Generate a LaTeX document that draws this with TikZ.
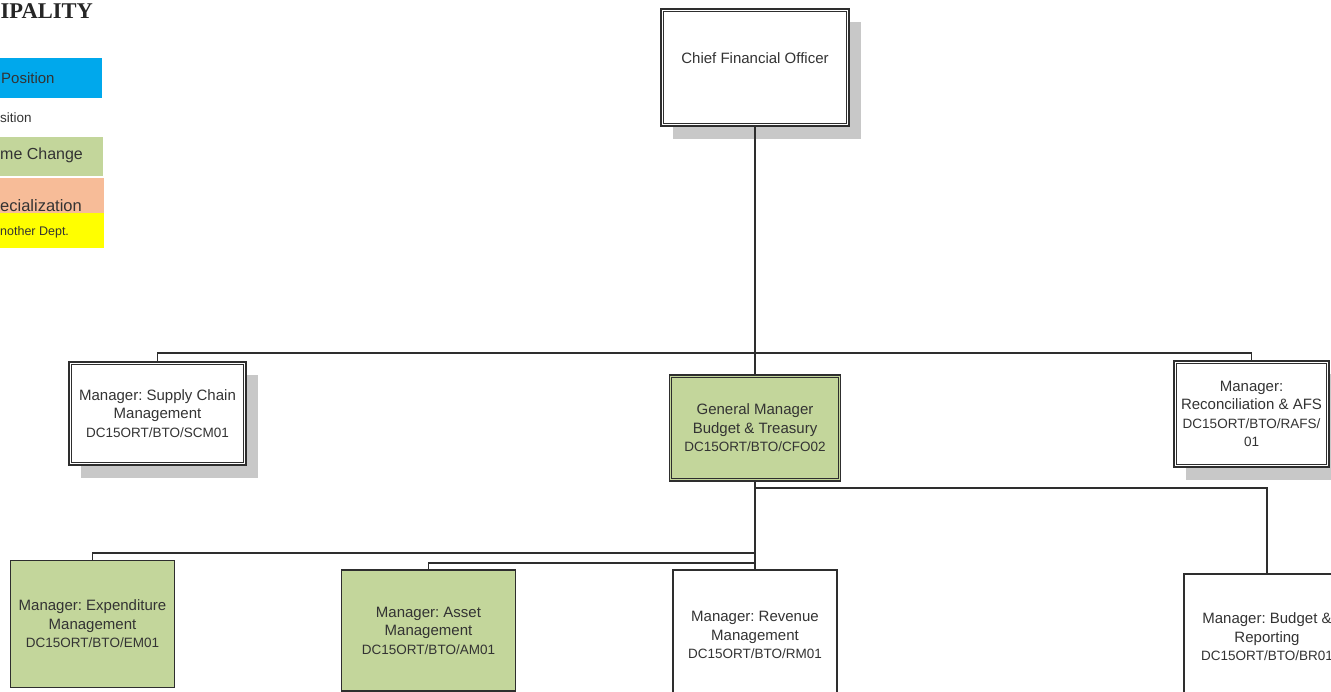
\documentclass[tikz,border=0pt]{standalone}
\usepackage{fontspec}
\setmainfont{Liberation Sans}
\newfontfamily\titlefont{Liberation Serif}
\usetikzlibrary{shadows}
\frenchspacing
\definecolor{gfill}{HTML}{C3D69B}
\definecolor{bfill}{HTML}{00A8EC}
\definecolor{sfill}{HTML}{F7BC98}
\definecolor{yfill}{HTML}{FFFF00}
\definecolor{lc}{HTML}{2E2E2E}
\definecolor{tc}{HTML}{333333}
\definecolor{shc}{HTML}{C8C8C8}
\newcommand{\nm}{\fontsize{15}{18.5}\selectfont}
\newcommand{\cd}{\fontsize{13.5}{18.5}\selectfont}
\newcommand{\innerline}[1]{\draw[inb] ([shift={(3.2,3.2)}]#1.north west) rectangle ([shift={(-3.2,-3.2)}]#1.south east);}
\begin{document}
\begin{tikzpicture}[x=1pt,y=-1pt,
  box/.style={draw=lc, line width=1.3pt, line join=miter, inner sep=0pt, align=center, text=tc, font=\nm},
  dbox/.style={box, line width=1.6pt},
  inb/.style={draw=lc, line width=0.9pt},
  shad/.style={drop shadow={shadow xshift=12pt, shadow yshift=-13pt, fill=shc, opacity=1}},
  conn/.style={draw=lc, line width=1.3pt},
  leg/.style={anchor=west, inner sep=0pt, text=tc}]
\clip (0,0) rectangle (1331,691);
\fill[white] (0,0) rectangle (1331,691);
% title and legend
\node[anchor=north east, inner sep=0pt, text=black!85, font=\titlefont\bfseries\fontsize{22.5}{22}\selectfont] (title) at (93,3) {IPALITY};
\fill[bfill] (0,58) rectangle (102,98);
\node[leg, font=\fontsize{15}{18}\selectfont] (l1) at (1,78) {Position};
\node[leg, font=\fontsize{13.5}{16}\selectfont] (l2) at (0,118) {sition};
\fill[gfill] (0,137) rectangle (103,176);
\node[leg, font=\fontsize{16}{18}\selectfont] (l3) at (0,155) {me Change};
\fill[sfill] (0,178) rectangle (104,215);
\fill[yfill] (0,213) rectangle (104,248);
\node[leg, font=\fontsize{16.5}{18}\selectfont] (l4) at (0,206) {ecialization};
\node[leg, font=\fontsize{12.5}{14}\selectfont] (l5) at (0,232) {nother Dept.};
% boxes
\node[dbox, shad, fill=white, minimum width=188pt, minimum height=117pt] (cfo) at (755,67.5) {};
\innerline{cfo}
\node[inner sep=0pt, text=tc, font=\nm] (cfot) at (755,58) {Chief Financial Officer};
\node[dbox, shad, fill=white, minimum width=177pt, minimum height=103pt] (scm) at (157.5,413.5)
  {Manager: Supply Chain\\Management\\{\cd DC15ORT/BTO/SCM01}};
\innerline{scm}
\node[dbox, fill=gfill, minimum width=171pt, minimum height=106pt] (gm) at (755,428)
  {General Manager\\Budget \& Treasury\\{\cd DC15ORT/BTO/CFO02}};
\innerline{gm}
\node[dbox, shad, fill=white, minimum width=155pt, minimum height=106pt] (rafs) at (1251.5,414)
  {Manager:\\Reconciliation \& AFS\\{\cd DC15ORT/BTO/RAFS/}\\{\cd 01}};
\innerline{rafs}
\node[box, fill=gfill, minimum width=164pt, minimum height=127pt] (em) at (92.5,624)
  {Manager: Expenditure\\Management\\{\cd DC15ORT/BTO/EM01}};
\node[box, fill=gfill, minimum width=174pt, minimum height=121pt] (am) at (428.5,630.5)
  {Manager: Asset\\Management\\{\cd DC15ORT/BTO/AM01}};
\node[box, fill=white, minimum width=164pt, minimum height=130pt] (rm) at (755,635)
  {Manager: Revenue\\Management\\{\cd DC15ORT/BTO/RM01}};
\node[box, fill=white, minimum width=166pt, minimum height=126pt] (br) at (1267,637)
  {Manager: Budget \&\\Reporting\\{\cd DC15ORT/BTO/BR01}};
% connectors
\coordinate (b1) at (755,353);
\coordinate (b2) at (755,488);
\coordinate (b3) at (755,553);
\coordinate (b4) at (755,563);
\draw[conn] (cfo.south) -- (gm.north);
\draw[conn] (scm.north) |- (b1) -| (rafs.north);
\draw[conn] (gm.south) -- (rm.north);
\draw[conn] (b2) -| (br.north);
\draw[conn] (b3) -| (em.north);
\draw[conn] (b4) -| (am.north);
\end{tikzpicture}
\end{document}
